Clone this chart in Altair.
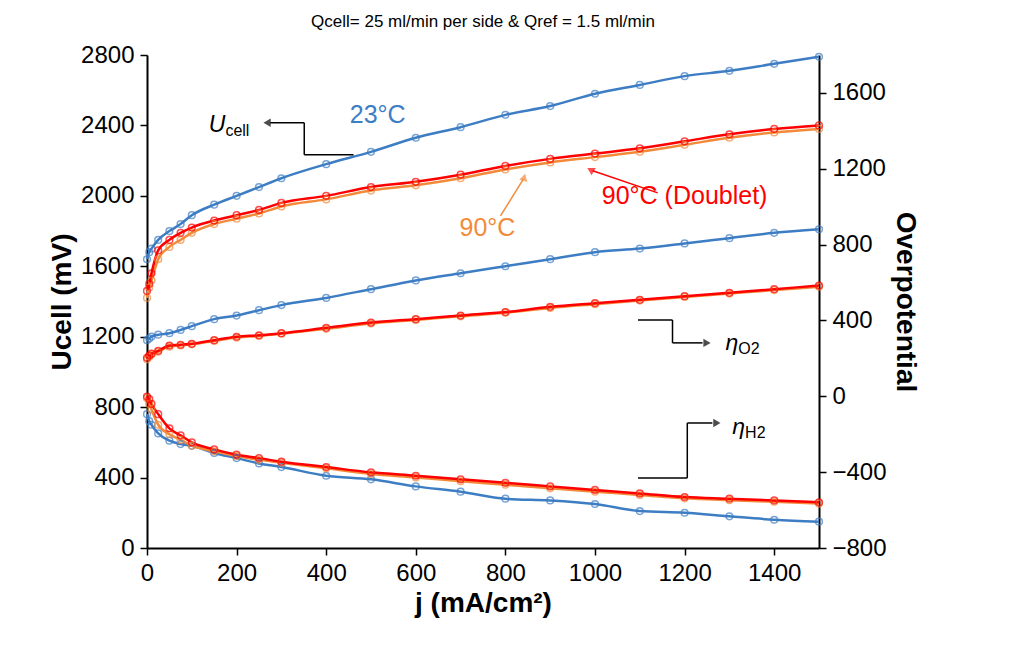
import altair as alt
import pandas as pd

X = [0, 5, 10, 25, 50, 75, 100, 150, 200, 250, 300, 400, 500, 600, 700,
     800, 900, 1000, 1100, 1200, 1300, 1400, 1500]

# cell voltage (mV, left axis)
u_23 = [1640, 1680, 1700, 1750, 1800, 1840, 1890, 1950, 2000, 2050, 2100, 2180,
        2250, 2330, 2390, 2460, 2510, 2580, 2630, 2680, 2710, 2750, 2790]
u_90d = [1460, 1500, 1560, 1690, 1750, 1790, 1820, 1860, 1890, 1920, 1960, 2000,
         2050, 2080, 2120, 2170, 2210, 2240, 2270, 2310, 2350, 2380, 2400]
u_90 = [1420, 1480, 1520, 1640, 1710, 1750, 1790, 1840, 1870, 1900, 1940, 1980,
        2030, 2060, 2100, 2150, 2190, 2220, 2250, 2290, 2330, 2360, 2380]

# overpotentials (mV, right axis)
o2_23 = [296, 305, 315, 325, 333, 350, 370, 407, 426, 454, 481, 519, 565, 611,
         649, 686, 723, 760, 779, 806, 834, 862, 881]
o2_90d = [203, 215, 225, 240, 268, 272, 277, 296, 314, 322, 333, 361, 389, 407,
          426, 444, 472, 491, 509, 528, 546, 565, 584]
o2_90 = [195, 208, 220, 235, 262, 268, 274, 292, 310, 318, 330, 356, 384, 403,
         422, 441, 466, 486, 505, 524, 542, 560, 578]
h2_23 = [-94, -131, -150, -196, -234, -252, -261, -299, -326, -354, -373, -419,
         -438, -475, -503, -540, -549, -568, -605, -614, -633, -651, -661]
h2_90d = [-1, -15, -40, -94, -169, -206, -243, -280, -308, -326, -345, -373,
          -401, -419, -438, -456, -475, -494, -512, -531, -540, -549, -559]
h2_90 = [-10, -40, -70, -150, -200, -230, -260, -290, -315, -335, -350, -380,
         -410, -428, -448, -466, -485, -503, -520, -538, -548, -556, -566]

series = ["23", "90", "90D"]
colors = ["#3d7dc4", "#f28a3a", "#ff0000"]
FONT = "Liberation Sans"

def frame(curves):
    rows = []
    for name, ser, vals in curves:
        for x, v in zip(X, vals):
            rows.append({"j": x, "v": v, "series": ser, "curve": name})
    return pd.DataFrame(rows)

u_df = frame([("u23", "23", u_23), ("u90", "90", u_90), ("u90d", "90D", u_90d)])
eta_df = frame([("o23", "23", o2_23), ("o90", "90", o2_90), ("o90d", "90D", o2_90d),
                ("h23", "23", h2_23), ("h90", "90", h2_90), ("h90d", "90D", h2_90d)])

color = alt.Color("series:N", scale=alt.Scale(domain=series, range=colors), legend=None)
xenc = alt.X("j:Q", scale=alt.Scale(domain=[0, 1500], nice=False),
             axis=alt.Axis(values=list(range(0, 1500, 200)), title="j (mA/cm²)",
                           format="d", labelFlush=False))

yl = alt.Y("v:Q", scale=alt.Scale(domain=[0, 2800], nice=False),
           axis=alt.Axis(values=list(range(0, 2801, 400)), title="Ucell (mV)",
                         orient="left", format="d"))
yr = alt.Y("v:Q", scale=alt.Scale(domain=[-800, 1800], nice=False),
           axis=alt.Axis(values=list(range(-800, 1601, 400)), title="Overpotential",
                         orient="right", format="d"))
ysc = alt.Scale(domain=[0, 2800], nice=False)

u_base = alt.Chart(u_df).encode(x=xenc, y=yl, color=color, detail="curve:N")
u_layer = (u_base.mark_line(strokeWidth=2.5, interpolate="monotone")
           + u_base.mark_point(filled=False, size=45, strokeWidth=1.5))

e_base = alt.Chart(eta_df).encode(x=xenc, y=yr, color=color, detail="curve:N")
e_layer = (e_base.mark_line(strokeWidth=2.5, interpolate="monotone")
           + e_base.mark_point(filled=False, size=45, strokeWidth=1.5))

# annotations in left-axis units
ann_text = pd.DataFrame([
    {"j": 515, "v": 2460, "t": "23°C", "c": "#3d7dc4"},
    {"j": 1200, "v": 2000, "t": "90°C (Doublet)", "c": "#ff0000"},
    {"j": 760, "v": 1820, "t": "90°C", "c": "#f28a3a"},
])
txt = alt.Chart(ann_text).mark_text(fontSize=25, font=FONT).encode(
    x="j:Q", y=alt.Y("v:Q", scale=ysc),
    text="t:N", color=alt.Color("c:N", scale=None))

lab = pd.DataFrame([
    {"j": 175, "v": 2400, "t": "U", "s": "cell"},
    {"j": 1320, "v": 1165, "t": "η", "s": "O2"},
    {"j": 1335, "v": 690, "t": "η", "s": "H2"},
])
lab_main = alt.Chart(lab).mark_text(fontSize=23, font=FONT, fontStyle="italic",
                                    color="black", align="right").encode(
    x="j:Q", y=alt.Y("v:Q", scale=ysc), text="t:N")
lab_sub = alt.Chart(lab).mark_text(fontSize=16, font=FONT, color="black",
                                   align="left", dy=6).encode(
    x="j:Q", y=alt.Y("v:Q", scale=ysc), text="s:N")

segs = pd.DataFrame([
    {"x": 351, "x2": 351, "y": 2415, "y2": 2233, "c": "black"},
    {"x": 351, "x2": 461, "y": 2233, "y2": 2233, "c": "black"},
    {"x": 351, "x2": 275, "y": 2415, "y2": 2415, "c": "black"},
    {"x": 1096, "x2": 1173, "y": 1295, "y2": 1295, "c": "black"},
    {"x": 1173, "x2": 1173, "y": 1295, "y2": 1165, "c": "black"},
    {"x": 1173, "x2": 1240, "y": 1165, "y2": 1165, "c": "black"},
    {"x": 1096, "x2": 1206, "y": 398, "y2": 398, "c": "black"},
    {"x": 1206, "x2": 1206, "y": 398, "y2": 710, "c": "black"},
    {"x": 1206, "x2": 1262, "y": 710, "y2": 710, "c": "black"},
    {"x": 1140, "x2": 995, "y": 2017, "y2": 2143, "c": "#ff0000"},
    {"x": 789, "x2": 840, "y": 1886, "y2": 2095, "c": "#f28a3a"},
])
rules = alt.Chart(segs).mark_rule(strokeWidth=1.5).encode(
    x="x:Q", x2="x2:Q", y=alt.Y("y:Q", scale=ysc), y2="y2:Q",
    color=alt.Color("c:N", scale=None))

heads = pd.DataFrame([
    {"x": 268, "y": 2415, "a": 270, "c": "black"},
    {"x": 1250, "y": 1165, "a": 90, "c": "black"},
    {"x": 1272, "y": 710, "a": 90, "c": "black"},
    {"x": 990, "y": 2148, "a": 300, "c": "#ff0000"},
    {"x": 842, "y": 2105, "a": 15, "c": "#f28a3a"},
])
arrow = alt.Chart(heads).mark_point(shape="triangle-up", filled=True, size=70).encode(
    x="x:Q", y=alt.Y("y:Q", scale=ysc),
    angle=alt.Angle("a:Q", scale=None), color=alt.Color("c:N", scale=None))

left = alt.layer(u_layer, txt, lab_main, lab_sub, rules, arrow)

chart = alt.layer(left, e_layer).resolve_scale(y="independent", color="independent").properties(
    width=672, height=493,
    padding={"left": 40, "top": 5, "right": 5, "bottom": 5},
    title=alt.Title("Qcell= 25 ml/min per side  & Qref = 1.5 ml/min",
                    fontSize=17, font=FONT, fontWeight="normal", offset=12),
).configure_view(stroke=None).configure_axis(
    grid=False, domainColor="black", domainWidth=2, tickColor="black", tickWidth=1.5,
    labelFont=FONT, labelFontSize=24, labelColor="black", titleFont=FONT,
    titleFontSize=28, titleColor="black", titleFontWeight="bold", tickSize=7,
    labelPadding=6,
)

chart.save("out.html", embed_options={"renderer": "svg", "actions": False})
